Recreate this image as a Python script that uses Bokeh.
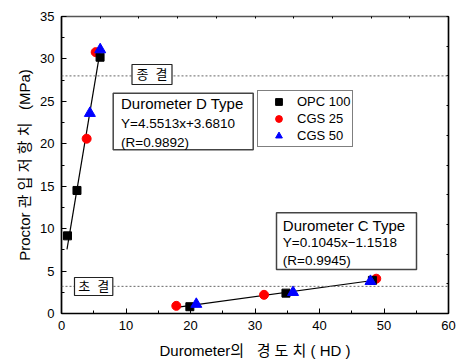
from bokeh.plotting import figure
from bokeh.models import (Range1d, LinearAxis, Span, BoxAnnotation, Label, Legend,
                          LegendItem, SingleIntervalTicker, CustomJSTickFormatter)
from bokeh.embed import file_html
from bokeh.resources import INLINE

# ---- data ----
opc_x = [0.93, 2.4, 5.98, 19.9, 34.8, 48.2]
opc_y = [9.15, 14.5, 30.2, 0.8, 2.4, 3.9]
cgs25_x = [3.9, 5.3, 17.8, 31.4, 48.8]
cgs25_y = [20.6, 30.8, 0.9, 2.2, 4.1]
cgs50_x = [4.4, 6.0, 20.9, 35.9, 47.9]
cgs50_y = [23.6, 31.1, 1.1, 2.5, 3.8]

d_slope, d_intercept = 4.5513, 3.6810
d_range = [0.85, 5.9]
c_slope, c_intercept = 0.1045, -1.1518
c_range = [18.4, 48.8]

final_set = 28.0
initial_set = 3.2

series_labels = ["OPC 100", "CGS 25", "CGS 50"]

FONT = "Liberation Sans, Noto Sans CJK KR"
NB = "\u00a0"

# ---- frame geometry ----
W, H = 469, 361
FL, FR, FT, FB = 61, 448, 16, 313
XMAX, YMAX = 60, 35


def dx(px):
    return (px - FL) / (FR - FL) * XMAX


def dy(py):
    return (FB - py) / (FB - FT) * YMAX


p = figure(width=W, height=H, x_range=Range1d(0, XMAX), y_range=Range1d(0, YMAX),
           output_backend="svg", toolbar_location=None,
           min_border_left=FL, min_border_right=W - FR,
           min_border_top=FT, min_border_bottom=H - FB)
p.xgrid.visible = False
p.ygrid.visible = False
p.outline_line_color = "black"
p.outline_line_width = 1.2

for ax, interval in ((p.xaxis[0], 10), (p.yaxis[0], 5)):
    ax.ticker = SingleIntervalTicker(interval=interval, num_minor_ticks=2)
    ax.major_tick_in = 5
    ax.major_tick_out = 0
    ax.minor_tick_in = 3
    ax.minor_tick_out = 0
    ax.axis_line_width = 1.6
    ax.axis_line_color = "black"
    ax.major_tick_line_color = "black"
    ax.minor_tick_line_color = "black"
    ax.major_label_text_font = FONT
    ax.major_label_text_font_size = "13px"
    ax.major_label_text_color = "black"
    ax.axis_label_text_font = FONT
    ax.axis_label_text_font_size = "15px"
    ax.axis_label_text_font_style = "normal"
    ax.axis_label_text_color = "black"

p.xaxis[0].axis_label = f"Durometer의{NB}{NB} 경{NB}도{NB}치{NB}({NB}HD{NB})"
p.xaxis[0].major_label_standoff = 7
p.xaxis[0].axis_label_standoff = 9
p.yaxis[0].axis_label = "Proctor 관 입 저 항 치 " + NB + " (MPa)"
p.yaxis[0].major_label_standoff = 7
p.yaxis[0].axis_label_standoff = 4

blank = CustomJSTickFormatter(code="return ''")
top_ax = LinearAxis(ticker=SingleIntervalTicker(interval=6, num_minor_ticks=0),
                    formatter=blank, major_label_text_color=None, major_label_standoff=0,
                    major_tick_in=2, major_tick_out=0, minor_tick_in=0, minor_tick_out=0,
                    axis_line_color="#555555", axis_line_width=1.5)
right_ax = LinearAxis(ticker=SingleIntervalTicker(interval=3.5, num_minor_ticks=0),
                      formatter=blank, major_label_text_color=None, major_label_standoff=0,
                      major_tick_in=2, major_tick_out=0, minor_tick_in=0, minor_tick_out=0,
                      axis_line_color="black", axis_line_width=1.5)
p.add_layout(top_ax, "above")
p.add_layout(right_ax, "right")

# ---- reference lines (set times) ----
p.add_layout(Span(location=final_set, dimension="width", line_color="#666666",
                  line_dash="2 2", line_width=1))
p.add_layout(Span(location=initial_set, dimension="width", line_color="#666666",
                  line_dash="2 2", line_width=1))

# ---- fit lines ----
p.line(d_range, [d_slope * x + d_intercept for x in d_range], line_color="black", line_width=1.2)
p.line(c_range, [c_slope * x + c_intercept for x in c_range], line_color="black", line_width=1.2)

# ---- markers ----
r25 = p.scatter(cgs25_x, cgs25_y, marker="circle", size=9, fill_color="red", line_color="red")
ropc = p.scatter(opc_x, opc_y, marker="square", size=8, fill_color="black", line_color="black")
r50 = p.scatter(cgs50_x, cgs50_y, marker="triangle", size=11, fill_color="blue", line_color="blue")

# ---- annotation boxes ----
def box(l, r, t, b, lc="#444444", lw=1.5):
    p.add_layout(BoxAnnotation(left=dx(l), right=dx(r), top=dy(t), bottom=dy(b),
                               fill_color="white", fill_alpha=1.0,
                               line_color=lc, line_width=lw, line_alpha=1.0))


def label(px, py, text, size, align="left"):
    p.add_layout(Label(x=dx(px), y=dy(py), text=text, text_font=FONT,
                       text_font_size=size, text_baseline="middle", text_align=align,
                       text_color="black"))


box(131.5, 171.5, 64, 84, lc="#222222", lw=1.2)
label(151.5, 74, f"종{NB}{NB}결", "13px", "center")
box(74, 112.3, 277, 295, lc="#222222", lw=1.2)
label(93.2, 286, f"초{NB}{NB}결", "13px", "center")

box(112.7, 252.7, 92.7, 149.3)
label(120.5, 103.3, "Durometer D Type", "15px")
label(120.5, 122.5, f"Y={d_slope:.4f}x+{d_intercept:.4f}", "13.5px")
label(120.5, 141.7, "(R=0.9892)", "13.5px")

box(276, 416, 212.3, 269)
label(282.3, 224.5, "Durometer C Type", "15px")
label(282.3, 242.3, f"Y={c_slope:.4f}x\u2212{abs(c_intercept):.4f}", "13.5px")
label(282.3, 260, "(R=0.9945)", "13.5px")

# ---- legend ----
legend = Legend(items=[LegendItem(label=series_labels[0], renderers=[ropc]),
                       LegendItem(label=series_labels[1], renderers=[r25]),
                       LegendItem(label=series_labels[2], renderers=[r50])],
                location=(257 - FL, FB - 147), padding=2, spacing=0, margin=0,
                glyph_width=37, glyph_height=17, label_height=17, label_standoff=0,
                label_text_font=FONT, label_text_font_size="13px",
                label_text_color="black",
                border_line_color="black", border_line_width=1,
                background_fill_color="white", background_fill_alpha=1.0)
p.add_layout(legend)

open("out.html", "w").write(file_html(p, INLINE))
